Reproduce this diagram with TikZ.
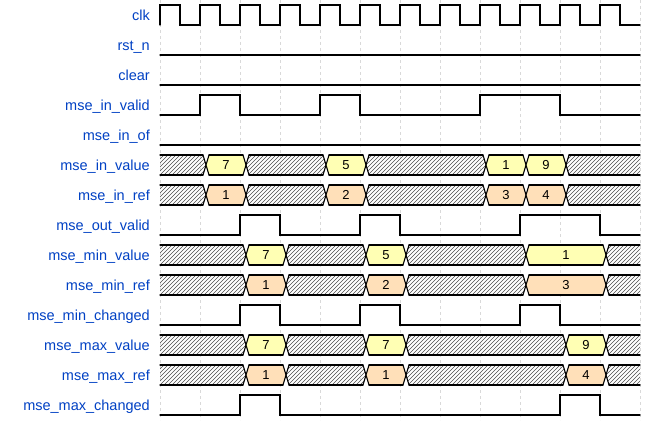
\documentclass[tikz,border=0pt]{standalone}
\usepackage{fontspec}
\setmainfont{Liberation Sans}
\definecolor{lbl}{HTML}{0041C4}
\definecolor{yel}{HTML}{FFFFB4}
\definecolor{org}{HTML}{FFE0B9}
\tikzset{
  wire/.style={line width=1.1pt, line join=miter, line cap=round, black},
  gridline/.style={line width=0.8pt, black!15, dash pattern=on 3pt off 3pt},
  hatchline/.style={line width=0.45pt, black!70},
  lab/.style={anchor=base east, text=lbl, font=\fontsize{14.5}{17}\selectfont, inner sep=0pt},
  val/.style={font=\fontsize{13}{15}\selectfont, inner sep=0pt}
}
\newcommand\segcoords[3]{%
  \pgfmathsetmacro\yt{5+30*#1}\pgfmathsetmacro\yb{25+30*#1}\pgfmathsetmacro\ym{15+30*#1}%
  \ifnum#2=160\relax \def\xl{160}\def\xlp{160}\else\pgfmathsetmacro\xl{#2+9}\pgfmathsetmacro\xlp{#2+6}\fi
  \ifnum#3=640\relax \def\xr{640}\def\xrp{640}\else\pgfmathsetmacro\xr{#3+3}\pgfmathsetmacro\xrp{#3+6}\fi}
\newcommand\segoutline[2]{%
  \draw[wire] (\xl,\yt) -- (\xr,\yt) (\xl,\yb) -- (\xr,\yb);
  \ifnum#2<640\relax \draw[wire] (\xr,\yt) -- (\xrp,\ym) -- (\xr,\yb);\fi
  \ifnum#1>160\relax \draw[wire] (\xl,\yt) -- (\xlp,\ym) -- (\xl,\yb);\fi}
\newcommand\dseg[5]{%
  \segcoords{#1}{#2}{#3}%
  \fill[#4] (\xl,\yt) -- (\xr,\yt) -- (\xrp,\ym) -- (\xr,\yb) -- (\xl,\yb) -- (\xlp,\ym) -- cycle;
  \segoutline{#2}{#3}%
  \pgfmathsetmacro\xc{(#2+#3)/2+6}%
  \node[val] (v#1-#2) at (\xc,\ym) {#5};}
\newcommand\hseg[3]{%
  \segcoords{#1}{#2}{#3}%
  \pgfmathtruncatemacro\ka{#2-24}\pgfmathtruncatemacro\kb{#2-20}\pgfmathtruncatemacro\ke{#3+8}%
  \begin{scope}
    \clip (\xl,\yt) -- (\xr,\yt) -- (\xrp,\ym) -- (\xr,\yb) -- (\xl,\yb) -- (\xlp,\ym) -- cycle;
    \foreach \k in {\ka,\kb,...,\ke} \draw[hatchline] (\k,\yb) -- ++(20,-20);
  \end{scope}
  \segoutline{#2}{#3}}
\begin{document}
\begin{tikzpicture}[x=1pt,y=-1pt]
\useasboundingbox (0,0) rectangle (660,420);
\fill[white] (0,0) rectangle (660,420);
% grid
\foreach \g in {160,200,...,640} \draw[gridline] (\g,0) -- (\g,420);
% labels
\foreach \t [count=\i from 0] in {clk,rst\_n,clear,mse\_in\_valid,mse\_in\_of,mse\_in\_value,mse\_in\_ref,mse\_out\_valid,mse\_min\_value,mse\_min\_ref,mse\_min\_changed,mse\_max\_value,mse\_max\_ref,mse\_max\_changed}
  \node[lab] (l\i) at (150,{20.5+30*\i}) {\t};
% clk
\draw[wire] (160,25) \foreach \k in {0,...,11} { -- ({160+40*\k},5) -- ({180+40*\k},5) -- ({180+40*\k},25) -- ({200+40*\k},25) };
% rst_n, clear
\draw[wire] (160,55) -- (640,55);
\draw[wire] (160,85) -- (640,85);
% mse_in_valid
\draw[wire] (160,115) -- (200,115) -- (200,95) -- (240,95) -- (240,115) -- (320,115) -- (320,95) -- (360,95) -- (360,115) -- (480,115) -- (480,95) -- (560,95) -- (560,115) -- (640,115);
% mse_in_of
\draw[wire] (160,145) -- (640,145);
% mse_in_value
\hseg{5}{160}{200}\dseg{5}{200}{240}{yel}{7}\hseg{5}{240}{320}\dseg{5}{320}{360}{yel}{5}
\hseg{5}{360}{480}\dseg{5}{480}{520}{yel}{1}\dseg{5}{520}{560}{yel}{9}\hseg{5}{560}{640}
% mse_in_ref
\hseg{6}{160}{200}\dseg{6}{200}{240}{org}{1}\hseg{6}{240}{320}\dseg{6}{320}{360}{org}{2}
\hseg{6}{360}{480}\dseg{6}{480}{520}{org}{3}\dseg{6}{520}{560}{org}{4}\hseg{6}{560}{640}
% mse_out_valid
\draw[wire] (160,235) -- (240,235) -- (240,215) -- (280,215) -- (280,235) -- (360,235) -- (360,215) -- (400,215) -- (400,235) -- (520,235) -- (520,215) -- (600,215) -- (600,235) -- (640,235);
% mse_min_value
\hseg{8}{160}{240}\dseg{8}{240}{280}{yel}{7}\hseg{8}{280}{360}\dseg{8}{360}{400}{yel}{5}
\hseg{8}{400}{520}\dseg{8}{520}{600}{yel}{1}\hseg{8}{600}{640}
% mse_min_ref
\hseg{9}{160}{240}\dseg{9}{240}{280}{org}{1}\hseg{9}{280}{360}\dseg{9}{360}{400}{org}{2}
\hseg{9}{400}{520}\dseg{9}{520}{600}{org}{3}\hseg{9}{600}{640}
% mse_min_changed
\draw[wire] (160,325) -- (240,325) -- (240,305) -- (280,305) -- (280,325) -- (360,325) -- (360,305) -- (400,305) -- (400,325) -- (520,325) -- (520,305) -- (560,305) -- (560,325) -- (640,325);
% mse_max_value
\hseg{11}{160}{240}\dseg{11}{240}{280}{yel}{7}\hseg{11}{280}{360}\dseg{11}{360}{400}{yel}{7}
\hseg{11}{400}{560}\dseg{11}{560}{600}{yel}{9}\hseg{11}{600}{640}
% mse_max_ref
\hseg{12}{160}{240}\dseg{12}{240}{280}{org}{1}\hseg{12}{280}{360}\dseg{12}{360}{400}{org}{1}
\hseg{12}{400}{560}\dseg{12}{560}{600}{org}{4}\hseg{12}{600}{640}
% mse_max_changed
\draw[wire] (160,415) -- (240,415) -- (240,395) -- (280,395) -- (280,415) -- (560,415) -- (560,395) -- (600,395) -- (600,415) -- (640,415);
\end{tikzpicture}
\end{document}
